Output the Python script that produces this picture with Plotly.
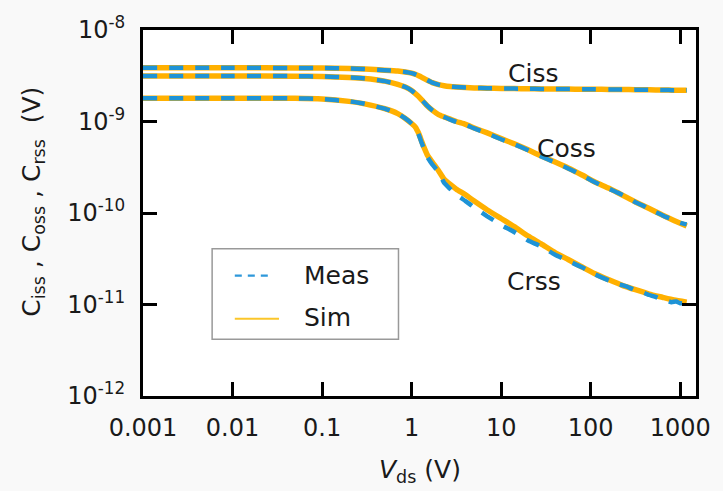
import plotly.graph_objects as go
import numpy as np

# ---- data ----
vds = [0.001, 0.01, 0.05, 0.1, 0.2, 0.3, 0.5, 0.7, 0.85, 1.0, 1.1, 1.2, 1.3, 1.4, 1.5, 1.7, 2.0, 2.3, 2.7, 3.16, 4, 5, 7,
       10, 14, 20, 28, 40, 56, 80, 110, 160, 225, 316, 450, 630, 850, 1180]

ciss_sim = [3.86e-9, 3.86e-9, 3.85e-9, 3.84e-9, 3.80e-9, 3.74e-9, 3.64e-9, 3.56e-9, 3.48e-9, 3.38e-9, 3.28e-9, 3.16e-9, 3.04e-9,
            2.92e-9, 2.82e-9, 2.66e-9, 2.53e-9, 2.46e-9, 2.41e-9, 2.38e-9, 2.35e-9, 2.33e-9, 2.31e-9, 2.30e-9, 2.29e-9, 2.28e-9,
            2.27e-9, 2.26e-9, 2.26e-9, 2.25e-9, 2.25e-9, 2.24e-9, 2.24e-9, 2.23e-9, 2.22e-9, 2.21e-9, 2.20e-9, 2.20e-9]
coss_sim = [3.14e-9, 3.14e-9, 3.13e-9, 3.10e-9, 3.03e-9, 2.95e-9, 2.76e-9, 2.55e-9, 2.38e-9, 2.18e-9, 2.02e-9, 1.87e-9, 1.72e-9,
            1.59e-9, 1.48e-9, 1.33e-9, 1.19e-9, 1.125e-9, 1.06e-9, 1.0e-9, 0.93e-9, 0.85e-9, 0.75e-9, 0.65e-9, 0.57e-9, 0.49e-9,
            0.42e-9, 0.36e-9, 0.31e-9, 0.26e-9, 0.22e-9, 0.186e-9, 0.157e-9, 0.132e-9, 0.112e-9, 0.095e-9, 0.083e-9, 0.072e-9]
crss_sim = [1.80e-9, 1.80e-9, 1.79e-9, 1.76e-9, 1.66e-9, 1.56e-9, 1.38e-9, 1.22e-9, 1.08e-9, 0.95e-9, 0.87e-9, 0.74e-9, 0.60e-9,
            0.50e-9, 0.43e-9, 0.36e-9, 0.29e-9, 0.235e-9, 0.205e-9, 0.182e-9, 0.158e-9, 0.135e-9, 0.108e-9, 0.087e-9, 0.071e-9,
            0.056e-9, 0.046e-9, 0.037e-9, 0.031e-9, 0.0257e-9, 0.0218e-9, 0.0186e-9, 0.0162e-9, 0.0145e-9, 0.0130e-9, 0.0120e-9,
            0.0112e-9, 0.0106e-9]

vds_meas = [0.001, 0.01, 0.05, 0.1, 0.2, 0.3, 0.5, 0.7, 0.85, 1.0, 1.1, 1.2, 1.3, 1.4, 1.5, 1.7, 2.0, 2.3, 2.7, 3.16, 4, 5, 7,
            10, 14, 20, 28, 40, 56, 80, 110, 160, 200, 250, 316, 380, 450, 520, 600, 700, 800, 900, 1000, 1180]
ciss_meas = [3.86e-9, 3.86e-9, 3.85e-9, 3.84e-9, 3.80e-9, 3.74e-9, 3.64e-9, 3.56e-9, 3.48e-9, 3.38e-9, 3.28e-9, 3.16e-9, 3.04e-9,
             2.92e-9, 2.82e-9, 2.66e-9, 2.53e-9, 2.46e-9, 2.41e-9, 2.38e-9, 2.35e-9, 2.33e-9, 2.31e-9, 2.30e-9, 2.29e-9, 2.28e-9,
             2.27e-9, 2.26e-9, 2.26e-9, 2.25e-9, 2.25e-9, 2.24e-9, 2.24e-9, 2.24e-9, 2.23e-9, 2.23e-9, 2.22e-9, 2.22e-9, 2.21e-9,
             2.21e-9, 2.20e-9, 2.20e-9, 2.20e-9, 2.20e-9]
coss_meas = [3.14e-9, 3.14e-9, 3.13e-9, 3.10e-9, 3.03e-9, 2.95e-9, 2.76e-9, 2.55e-9, 2.38e-9, 2.18e-9, 2.02e-9, 1.87e-9, 1.72e-9,
             1.59e-9, 1.48e-9, 1.33e-9, 1.19e-9, 1.12e-9, 1.05e-9, 0.99e-9, 0.92e-9, 0.84e-9, 0.74e-9, 0.64e-9, 0.565e-9, 0.485e-9,
             0.415e-9, 0.356e-9, 0.307e-9, 0.258e-9, 0.218e-9, 0.184e-9, 0.167e-9, 0.150e-9, 0.131e-9, 0.121e-9, 0.110e-9,
             0.103e-9, 0.097e-9, 0.090e-9, 0.086e-9, 0.081e-9, 0.078e-9, 0.075e-9]
crss_meas = [1.80e-9, 1.80e-9, 1.79e-9, 1.76e-9, 1.66e-9, 1.56e-9, 1.38e-9, 1.22e-9, 1.08e-9, 0.95e-9, 0.86e-9, 0.72e-9, 0.58e-9,
             0.48e-9, 0.41e-9, 0.34e-9, 0.28e-9, 0.215e-9, 0.183e-9, 0.158e-9, 0.135e-9, 0.115e-9, 0.092e-9, 0.074e-9, 0.062e-9,
             0.050e-9, 0.043e-9, 0.035e-9, 0.030e-9, 0.0255e-9, 0.0215e-9, 0.0183e-9, 0.0168e-9, 0.0158e-9, 0.0143e-9, 0.0136e-9,
             0.0127e-9, 0.0122e-9, 0.0115e-9, 0.0111e-9, 0.0106e-9, 0.0108e-9, 0.0103e-9, 0.0105e-9]

series_names = ["Ciss", "Coss", "Crss"]
label_pos = {"Ciss": (22.7, 3.37e-9), "Coss": (53.5, 5.03e-10), "Crss": (23.3, 1.8e-11)}

x_ticks = [0.001, 0.01, 0.1, 1, 10, 100, 1000]
x_ticktext = ["0.001", "0.01", "0.1", "1", "10", "100", "1000"]
y_ticks = [1e-12, 1e-11, 1e-10, 1e-9, 1e-8]
y_ticktext = ["10<sup>-12</sup>", "10<sup>-11</sup>", "10<sup>-10</sup>", "10<sup>-9</sup>", "10<sup>-8</sup>"]

SIM_COLOR = "#FFB000"
MEAS_COLOR = "#1E93D6"
FONT = "DejaVu Sans, Arial, sans-serif"
TXT = "#1a1a1a"

fig = go.Figure()
for y in [ciss_sim, coss_sim, crss_sim]:
    fig.add_trace(go.Scatter(x=vds, y=y, mode="lines", line=dict(color=SIM_COLOR, width=5.5, shape="spline", smoothing=0.5),
                             showlegend=False, hoverinfo="skip"))
for y in [ciss_meas, coss_meas, crss_meas]:
    fig.add_trace(go.Scatter(x=vds_meas, y=y, mode="lines",
                             line=dict(color=MEAS_COLOR, width=4.5, dash="14px,12px", shape="spline", smoothing=0.5),
                             showlegend=False, hoverinfo="skip"))

for name in series_names:
    xv, yv = label_pos[name]
    fig.add_annotation(x=np.log10(xv), y=np.log10(yv), text=name, showarrow=False,
                       font=dict(family=FONT, size=25, color=TXT), xref="x", yref="y")

# manual legend box
fig.add_shape(type="rect", xref="paper", yref="paper", x0=0.125, x1=0.462, y0=0.155, y1=0.402,
              line=dict(color="#999999", width=1.5), fillcolor="white")
fig.add_shape(type="line", xref="paper", yref="paper", x0=0.166, x1=0.236, y0=0.329, y1=0.329,
              line=dict(color="#2E98DA", width=2.2, dash="7px,6px"))
fig.add_shape(type="line", xref="paper", yref="paper", x0=0.166, x1=0.246, y0=0.211, y1=0.211,
              line=dict(color="#FBC62A", width=2.2))
fig.add_annotation(xref="paper", yref="paper", x=0.288, y=0.329, text="Meas", showarrow=False, xanchor="left",
                   yanchor="middle", font=dict(family=FONT, size=25, color=TXT))
fig.add_annotation(xref="paper", yref="paper", x=0.288, y=0.214, text="Sim", showarrow=False, xanchor="left",
                   yanchor="middle", font=dict(family=FONT, size=25, color=TXT))

# axis titles
fig.add_annotation(xref="paper", yref="paper", x=0.5, y=-0.205, yanchor="middle",
                   text="<i>V</i><sub>ds</sub> (V)", showarrow=False, font=dict(family=FONT, size=25, color=TXT))
fig.add_annotation(xref="paper", yref="paper", x=-0.232, y=0.53, textangle=-90,
                   text="C<sub>iss</sub> , C<sub>oss</sub> , C<sub>rss</sub>&nbsp;&nbsp;(V)", showarrow=False,
                   font=dict(family=FONT, size=25, color=TXT))

axis_common = dict(showgrid=False, zeroline=False, showline=True, linecolor="black", linewidth=3,
                   mirror="ticks", ticks="inside", ticklen=14, tickwidth=3, tickcolor="black",
                   tickfont=dict(family=FONT, size=24, color=TXT))
fig.update_xaxes(type="log", range=[-3, 3.176], tickvals=x_ticks, ticktext=x_ticktext, ticklabelstandoff=8, **axis_common)
fig.update_yaxes(type="log", range=[-12, -8], tickvals=y_ticks, ticktext=y_ticktext, ticklabelstandoff=10, **axis_common)

fig.update_layout(width=723, height=491, margin=dict(l=143, r=21, t=23, b=95),
                  paper_bgcolor="#f9f9f9", plot_bgcolor="white", showlegend=False)

fig.write_html("out.html")
